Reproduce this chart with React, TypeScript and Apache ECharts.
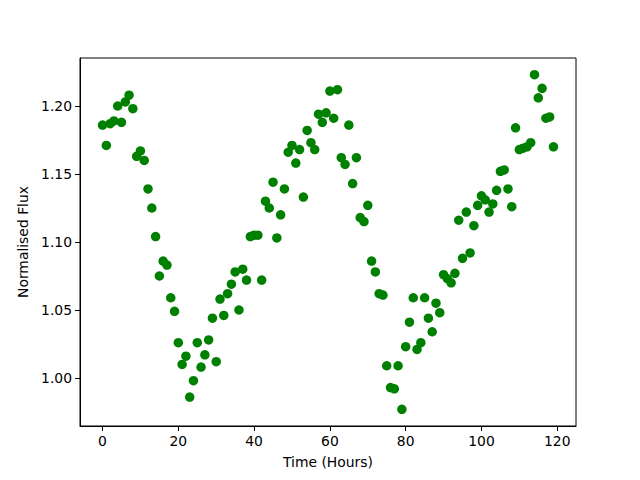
import React, { useEffect, useRef } from "react";
import * as echarts from "echarts";

const hours: number[] = Array.from({ length: 120 }, (_, i) => i);
const flux: number[] = [
  1.186, 1.171, 1.187, 1.189, 1.200, 1.188, 1.203, 1.208, 1.198, 1.163,
  1.167, 1.160, 1.139, 1.125, 1.104, 1.075, 1.086, 1.083, 1.059, 1.049,
  1.026, 1.010, 1.016, 0.986, 0.998, 1.026, 1.008, 1.017, 1.028, 1.044,
  1.012, 1.058, 1.046, 1.062, 1.069, 1.078, 1.050, 1.080, 1.072, 1.104,
  1.105, 1.105, 1.072, 1.130, 1.125, 1.144, 1.103, 1.120, 1.139, 1.166,
  1.171, 1.158, 1.168, 1.133, 1.182, 1.173, 1.168, 1.194, 1.188, 1.195,
  1.211, 1.191, 1.212, 1.162, 1.157, 1.186, 1.143, 1.162, 1.118, 1.115,
  1.127, 1.086, 1.078, 1.062, 1.061, 1.009, 0.993, 0.992, 1.009, 0.977,
  1.023, 1.041, 1.059, 1.021, 1.026, 1.059, 1.044, 1.034, 1.055, 1.048,
  1.076, 1.073, 1.070, 1.077, 1.116, 1.088, 1.122, 1.092, 1.112, 1.127,
  1.134, 1.131, 1.122, 1.128, 1.138, 1.152, 1.153, 1.139, 1.126, 1.184,
  1.168, 1.169, 1.170, 1.173, 1.223, 1.206, 1.213, 1.191, 1.192, 1.170,
];
const xTicks: number[] = [0, 20, 40, 60, 80, 100, 120];
const yTicks: number[] = [1.0, 1.05, 1.1, 1.15, 1.2];

export default function App() {
  const ref = useRef<HTMLDivElement>(null);
  useEffect(() => {
    document.body.style.margin = "0";
    if (!ref.current) return;
    const chart = echarts.init(ref.current, null, { renderer: "svg" });
    const xMinD = Math.min(...hours);
    const xMaxD = Math.max(...hours);
    const yMinD = Math.min(...flux);
    const yMaxD = Math.max(...flux);
    const xm = (xMaxD - xMinD) * 0.05;
    const ym = (yMaxD - yMinD) * 0.05;
    const font = "DejaVu Sans";
    const fs = 13.9;
    chart.setOption({
      animation: false,
      backgroundColor: "#ffffff",
      grid: {
        left: 80,
        right: 64,
        top: 58,
        bottom: 54,
        show: true,
        borderColor: "#000",
        borderWidth: 1,
        backgroundColor: "transparent",
      },
      xAxis: {
        type: "value",
        min: xMinD - xm,
        max: xMaxD + xm,
        name: "Time (Hours)",
        nameLocation: "middle",
        nameGap: 29,
        nameTextStyle: { fontFamily: font, fontSize: fs, color: "#000" },
        splitLine: { show: false },
        axisLine: { show: true, onZero: false, lineStyle: { color: "#000", width: 1 } },
        axisTick: { show: true, length: 5, customValues: xTicks, lineStyle: { color: "#000" } },
        axisLabel: {
          customValues: xTicks,
          margin: 8,
          fontFamily: font,
          fontSize: fs,
          color: "#000",
        },
      },
      yAxis: {
        type: "value",
        min: yMinD - ym,
        max: yMaxD + ym,
        name: "Normalised Flux",
        nameLocation: "middle",
        nameGap: 46,
        nameTextStyle: { fontFamily: font, fontSize: fs, color: "#000" },
        splitLine: { show: false },
        axisLine: { show: true, onZero: false, lineStyle: { color: "#000", width: 1 } },
        axisTick: { show: true, length: 5, customValues: yTicks, lineStyle: { color: "#000" } },
        axisLabel: {
          customValues: yTicks,
          margin: 8,
          fontFamily: font,
          fontSize: fs,
          color: "#000",
          formatter: (v: number) => v.toFixed(2),
        },
      },
      series: [
        {
          type: "scatter",
          data: hours.map((h, i) => [h, flux[i]]),
          symbol: "circle",
          symbolSize: 9.5,
          itemStyle: { color: "#008000", opacity: 1 },
        },
      ],
    });
    return () => chart.dispose();
  }, []);
  return <div ref={ref} style={{ width: 640, height: 480 }} />;
}
